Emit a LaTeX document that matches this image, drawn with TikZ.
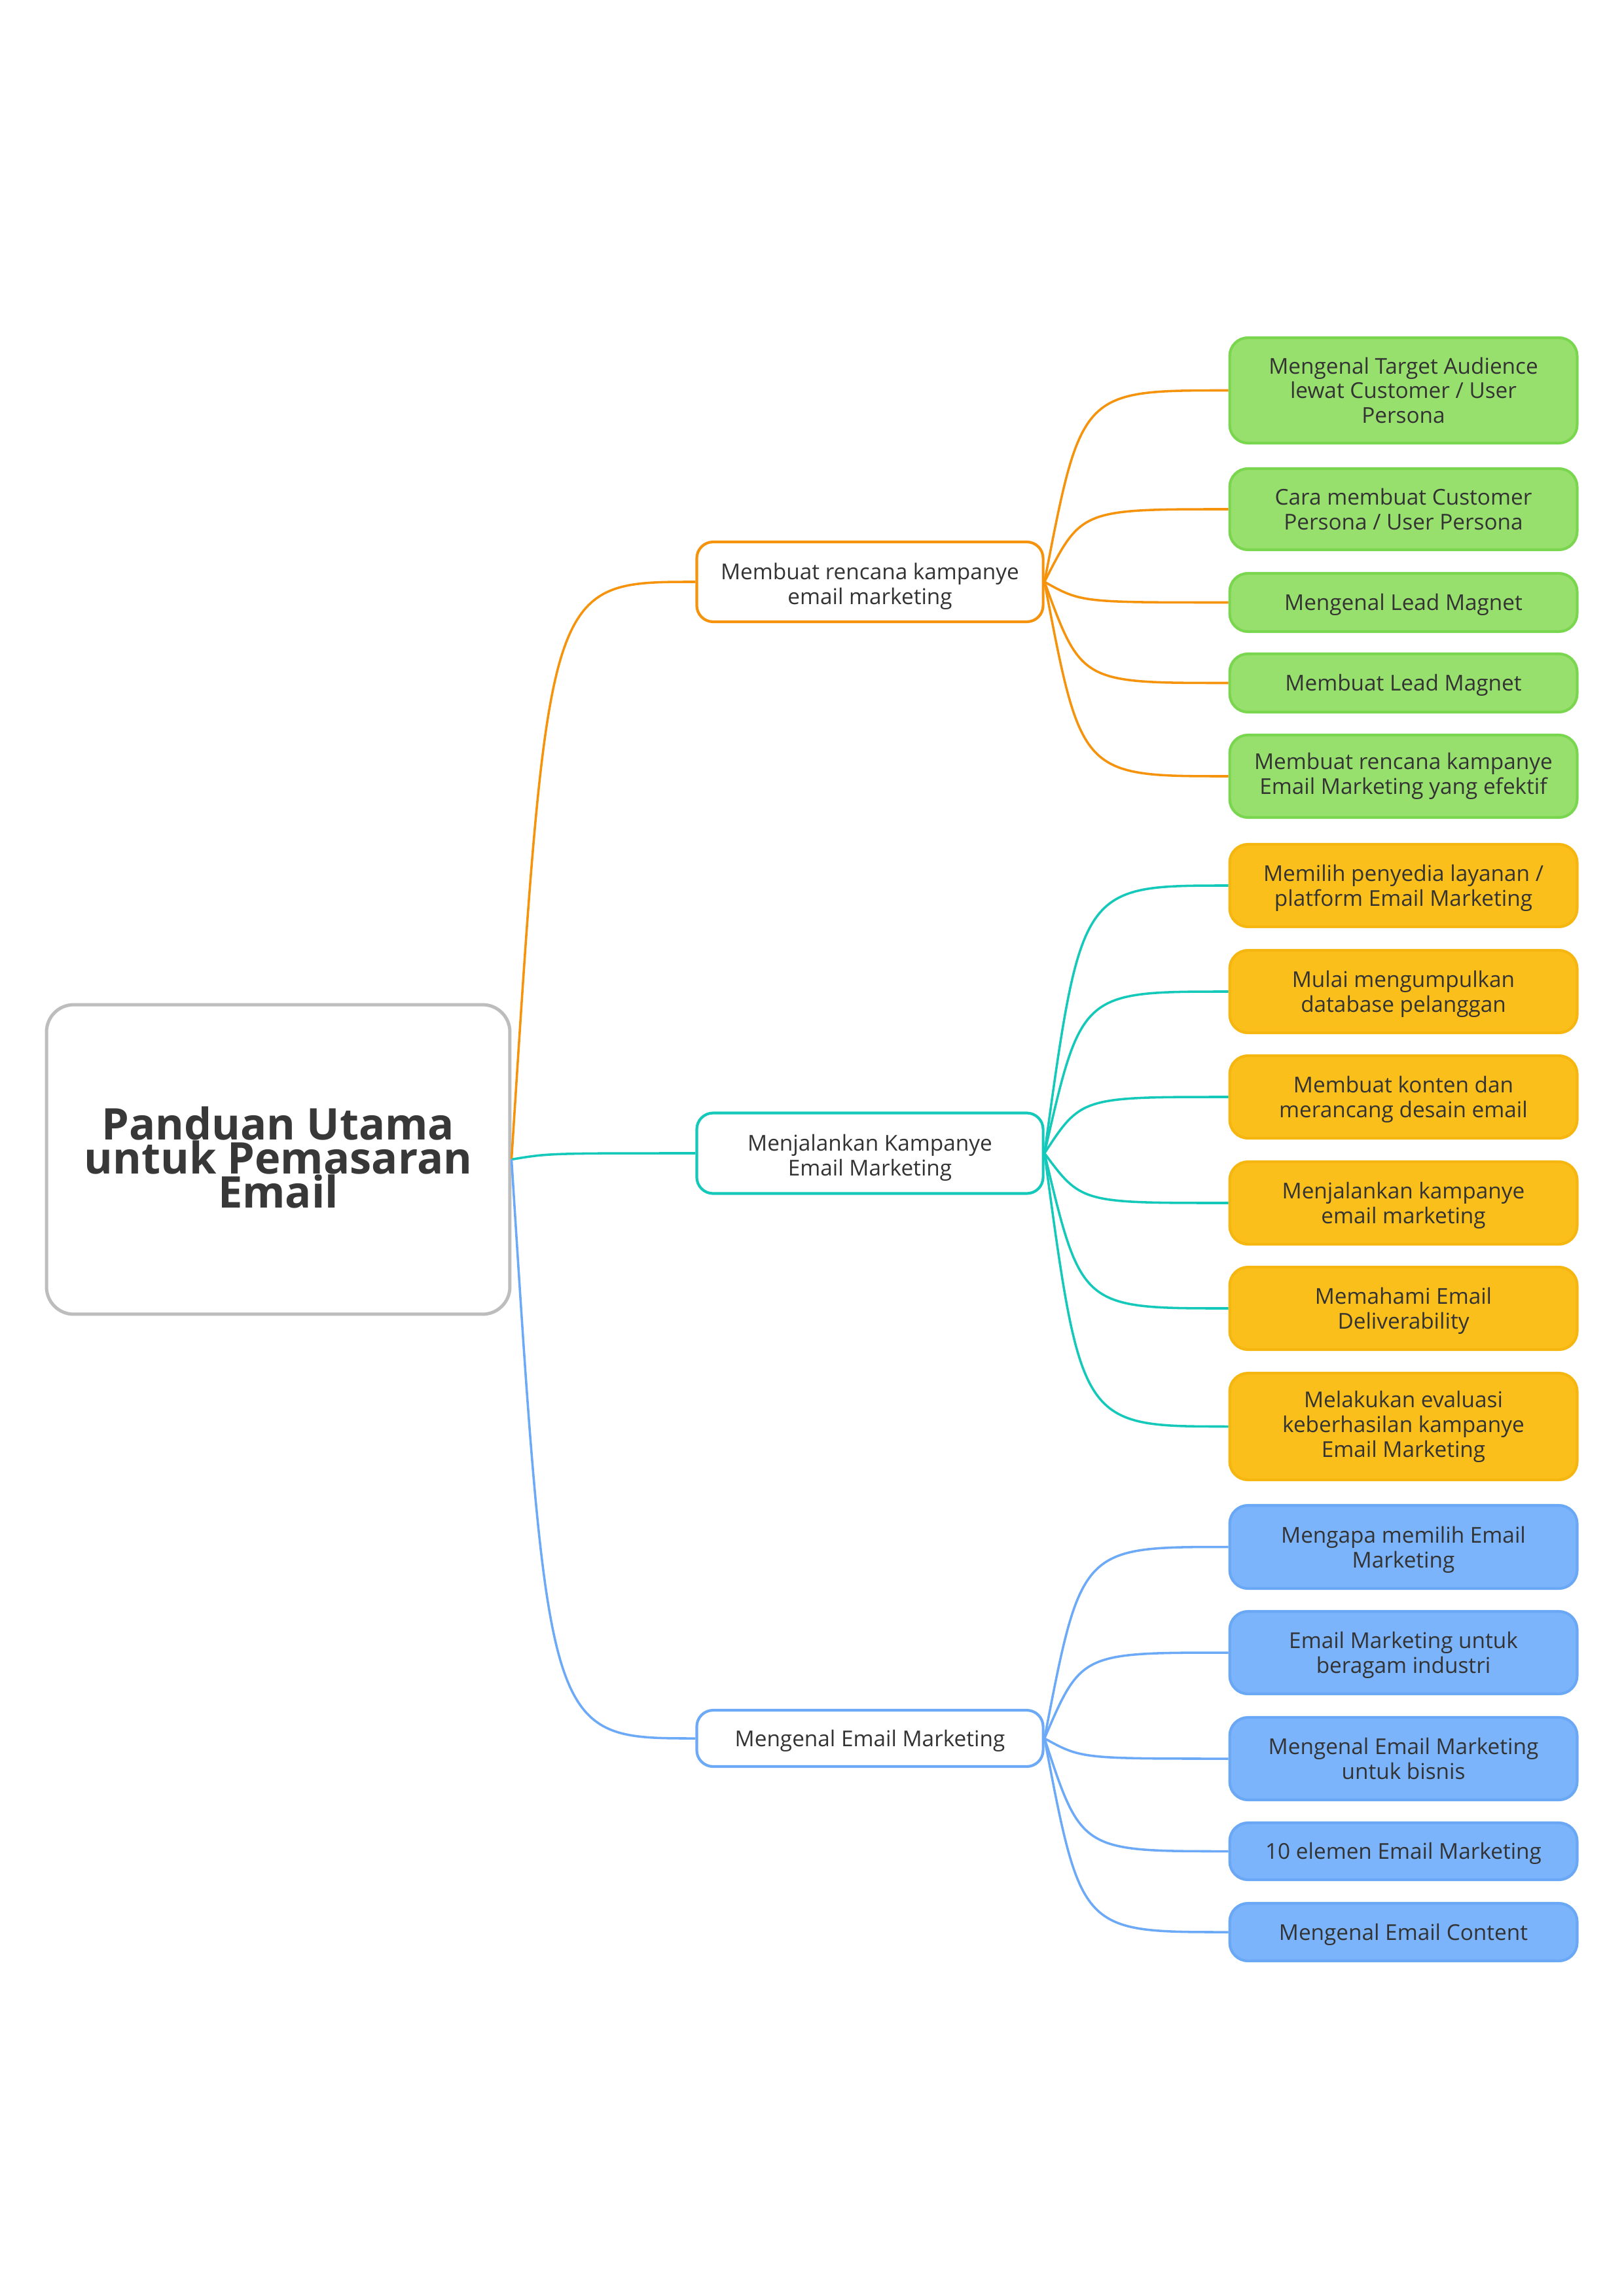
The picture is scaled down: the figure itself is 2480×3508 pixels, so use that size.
\documentclass[tikz,border=0pt]{standalone}
\usepackage{fontspec}
\setmainfont{Open Sans}
\usetikzlibrary{calc}
\definecolor{txt}{HTML}{333333}
\definecolor{rootTxt}{HTML}{383838}
\definecolor{cOr}{HTML}{F5930C}
\definecolor{cTe}{HTML}{14C8BA}
\definecolor{cBl}{HTML}{6CA9F7}
\definecolor{cGreenF}{HTML}{98E06E}
\definecolor{cGreenD}{HTML}{7AD64F}
\definecolor{cYelF}{HTML}{FBBF1C}
\definecolor{cYelD}{HTML}{F4B60F}
\definecolor{cBlueF}{HTML}{7BB4FB}
\definecolor{cBlueD}{HTML}{6AA8F5}
\definecolor{cGray}{HTML}{BDBDBD}
\newcommand\strutLeaf{\rule{0pt}{8.0pt}}
\newcommand\strutMid{\rule{0pt}{9.4pt}}
\newcommand\strutOne{\rule{0pt}{7.8pt}}
\tikzset{
  leaf/.style={rectangle, rounded corners=6.7pt, line width=1pt, minimum width=127.4pt,
    text=txt, align=center, font=\fontsize{8}{9.1}\selectfont, inner sep=0pt},
  gleaf/.style={leaf, fill=cGreenF, draw=cGreenD},
  yleaf/.style={leaf, fill=cYelF, draw=cYelD},
  bleaf/.style={leaf, fill=cBlueF, draw=cBlueD},
  mid/.style={rectangle, rounded corners=6pt, line width=1pt, minimum width=127pt,
    fill=white, text=txt, align=center, font=\fontsize{8}{9.1}\selectfont, inner sep=0pt},
  rootbox/.style={rectangle, rounded corners=10pt, line width=1.2pt, draw=cGray, fill=white,
    minimum width=169.9pt, minimum height=113.5pt, text=rootTxt, align=center,
    font=\fontsize{16}{12.5}\selectfont\bfseries, inner sep=0pt},
  branch/.style={to path={let \p1=(\tikztostart), \p2=(\tikztotarget) in
    .. controls ({\x1+0.2*(\x2-\x1)},\y2) and ({\x1+0.2*(\x2-\x1)},\y2) .. (\tikztotarget)}},
  conn/.style={line width=0.85pt},
}
\begin{document}
\begin{tikzpicture}[x=0.24pt,y=-0.24pt]
\useasboundingbox (0,0) rectangle (2480,3508);
% root
\node[rootbox] (root) at (425,1771.5) {Panduan Utama\\untuk Pemasaran\\Email\rule[-1.5pt]{0pt}{1pt}};
% mid nodes
\node[mid, draw=cOr, minimum height=122*0.24pt] (m1) at (1329,889) {\strutMid Membuat rencana kampanye\\email marketing};
\node[mid, draw=cTe, minimum height=123*0.24pt] (m2) at (1329,1762) {\strutMid Menjalankan Kampanye\\Email Marketing};
\node[mid, draw=cBl, minimum height=86*0.24pt] (m3) at (1329,2656) {\strutOne Mengenal Email Marketing};
% green leaves
\node[gleaf, minimum height=161*0.24pt] (g1) at (2144,596.5) {Mengenal Target Audience\\lewat Customer / User\\Persona};
\node[gleaf, minimum height=124*0.24pt] (g2) at (2144,778) {Cara membuat Customer\\Persona / User Persona};
\node[gleaf, minimum height=89*0.24pt] (g3) at (2144,920.5) {\strutOne Mengenal Lead Magnet};
\node[gleaf, minimum height=89*0.24pt] (g4) at (2144,1043.5) {\strutOne Membuat Lead Magnet};
\node[gleaf, minimum height=126*0.24pt] (g5) at (2144,1186) {Membuat rencana kampanye\\Email Marketing yang efektif};
% yellow leaves
\node[yleaf, minimum height=126*0.24pt] (y1) at (2144,1353) {\strutLeaf Memilih penyedia layanan /\\platform Email Marketing};
\node[yleaf, minimum height=126*0.24pt] (y2) at (2144,1515) {\strutLeaf Mulai mengumpulkan\\database pelanggan};
\node[yleaf, minimum height=126*0.24pt] (y3) at (2144,1676) {\strutLeaf Membuat konten dan\\merancang desain email};
\node[yleaf, minimum height=126*0.24pt] (y4) at (2144,1838) {\strutLeaf Menjalankan kampanye\\email marketing};
\node[yleaf, minimum height=126*0.24pt] (y5) at (2144,1999) {\strutLeaf Memahami Email\\Deliverability};
\node[yleaf, minimum height=163*0.24pt] (y6) at (2144,2179.5) {Melakukan evaluasi\\keberhasilan kampanye\\Email Marketing};
% blue leaves
\node[bleaf, minimum height=127*0.24pt] (b1) at (2144,2363.5) {\strutLeaf Mengapa memilih Email\\Marketing};
\node[bleaf, minimum height=126*0.24pt] (b2) at (2144,2525) {\strutLeaf Email Marketing untuk\\beragam industri};
\node[bleaf, minimum height=126*0.24pt] (b3) at (2144,2687) {Mengenal Email Marketing\\untuk bisnis};
\node[bleaf, minimum height=87*0.24pt] (b4) at (2144,2828.5) {\strutOne 10 elemen Email Marketing};
\node[bleaf, minimum height=88*0.24pt] (b5) at (2144,2952) {\strutOne Mengenal Email Content};
% connectors
\draw[conn, cOr] (root.east) to[branch] (m1.west);
\draw[conn, cTe] (root.east) to[branch] (m2.west);
\draw[conn, cBl] (root.east) to[branch] (m3.west);
\foreach \c in {g1,g2,g3,g4,g5} \draw[conn, cOr] (m1.east) to[branch] (\c.west);
\foreach \c in {y1,y2,y3,y4,y5,y6} \draw[conn, cTe] (m2.east) to[branch] (\c.west);
\foreach \c in {b1,b2,b3,b4,b5} \draw[conn, cBl] (m3.east) to[branch] (\c.west);
\end{tikzpicture}
\end{document}
